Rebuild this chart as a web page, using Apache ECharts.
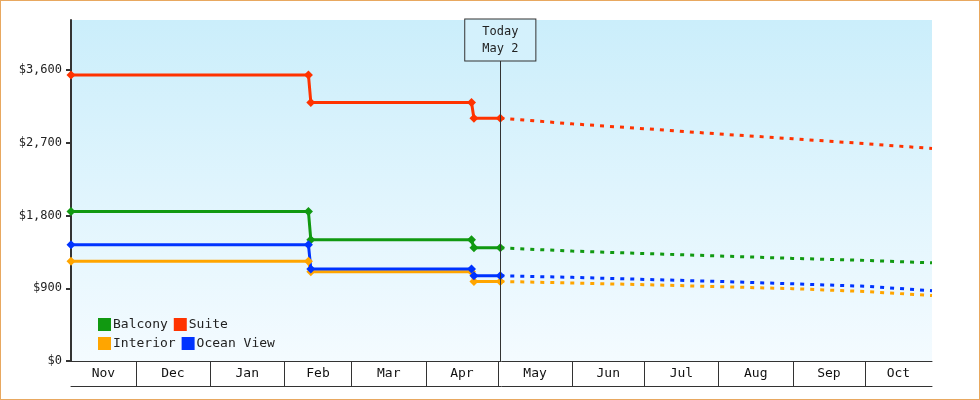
<!DOCTYPE html>
<html><head><meta charset="utf-8">
<script src="https://cdn.jsdelivr.net/npm/echarts@6/dist/echarts.min.js"></script>
<style>html,body{margin:0;padding:0;background:#fff}#c{width:978px;height:398px;border:1px solid #e8a860}</style>
</head><body><div id="c"></div>
<script>
const months = ['Nov','Dec','Jan','Feb','Mar','Apr','May','Jun','Jul','Aug','Sep','Oct'];
const monthStarts = ['2024-11-01','2024-12-01','2025-01-01','2025-02-01','2025-03-01','2025-04-01','2025-05-01','2025-06-01','2025-07-01','2025-08-01','2025-09-01','2025-10-01','2025-11-01'];
const histDates = ['2024-11-04','2025-02-11','2025-02-12','2025-04-20','2025-04-21','2025-05-02'];
const projDates = ['2025-05-02','2025-06-01','2025-07-01','2025-08-01','2025-09-01','2025-10-01','2025-10-29'];
const seriesNames = ['Balcony','Suite','Interior','Ocean View'];
const colors = ['#119911','#ff3300','#ffa500','#0033ff'];
const histValues = {
  'Balcony':    [1850,1850,1500,1500,1400,1400],
  'Suite':      [3540,3540,3200,3200,3005,3005],
  'Interior':   [1235,1235,1105,1105,985,985],
  'Ocean View': [1440,1440,1140,1140,1055,1055]
};
const projValues = {
  'Balcony':    [1400,1360,1330,1300,1270,1245,1215],
  'Suite':      [3005,2935,2875,2810,2750,2690,2630],
  'Interior':   [985,965,945,920,895,860,810],
  'Ocean View': [1055,1035,1010,985,955,925,870]
};
const today = '2025-05-02';
const xMin = '2024-11-04', xMax = '2025-10-29';
const font = 'DejaVu Sans Mono';
const t = d => new Date(d + 'T00:00:00Z').getTime();

const series = [];
seriesNames.forEach((n,i) => {
  series.push({name:n,type:'line',data:histDates.map((d,j)=>[t(d),histValues[n][j]]),
    symbol:'diamond',symbolSize:9,showSymbol:true,lineStyle:{width:3,color:colors[i]},itemStyle:{color:colors[i]},z:3});
  series.push({name:n,type:'line',data:projDates.map((d,j)=>[t(d),projValues[n][j]]),
    symbol:'none',lineStyle:{width:3,type:[4,6],color:colors[i]},itemStyle:{color:colors[i]},z:2});
});
const mids = months.map((m,i)=>{
  const a = Math.max(t(monthStarts[i]), t(xMin)), b = Math.min(t(monthStarts[i+1]), t(xMax));
  return [(a+b)/2, 0, m];
});
series.push({type:'custom',clip:false,silent:true,data:mids,z:5,
  renderItem:(p,api)=>{const c=api.coord([api.value(0),0]);
    return {type:'text',x:c[0],y:c[1]+13,style:{text:months[p.dataIndex],font:'13px '+font,fill:'#111',align:'center',verticalAlign:'middle'}};}});
series.push({type:'line',data:[],markLine:{silent:true,symbol:'none',
  lineStyle:{color:'#333',width:1,type:'solid'},
  label:{position:'end',formatter:'Today\nMay 2',fontFamily:font,fontSize:12,color:'#222',
    backgroundColor:'#d4f1fc',borderColor:'#333',borderWidth:1,padding:[4,17,3,17],lineHeight:17,distance:0},
  data:[[{coord:[t(today),0]},{coord:[t(today),3720]}]]}});

const chart = echarts.init(document.getElementById('c'));
chart.setOption({
  animation:false,
  grid:{left:70,right:47,top:19,bottom:38},
  backgroundColor:'#fff',
  legend:{left:92,top:312,width:200,itemWidth:13,itemHeight:13,itemGap:6,icon:'rect',
    data:seriesNames,textStyle:{fontFamily:font,fontSize:13,color:'#222',width:72,padding:[0,0,0,-3]},selectedMode:false},
  xAxis:[{type:'time',min:t(xMin),max:t(xMax),
    axisLine:{lineStyle:{color:'#333',width:1}},
    axisTick:{show:true,customValues:monthStarts.slice(1,12).map(t),length:25,lineStyle:{color:'#333'}},
    axisLabel:{show:false},splitLine:{show:false}},
    {type:'time',min:t(xMin),max:t(xMax),position:'bottom',offset:25,
    axisLine:{show:true,lineStyle:{color:'#333'}},axisTick:{show:false},axisLabel:{show:false},splitLine:{show:false}}],
  yAxis:{type:'value',min:0,max:4220,interval:900,
    axisLine:{show:true,lineStyle:{color:'#333',width:2}},
    axisTick:{show:true,length:5,lineStyle:{color:'#333',width:2}},
    axisLabel:{fontFamily:font,fontSize:12,color:'#222',margin:9,
      formatter:v=>'$'+v.toLocaleString('en-US'),showMaxLabel:false},
    splitLine:{show:false}},
  series
});
const g = chart.getModel().getComponent('grid').coordinateSystem.getRect();
chart.setOption({graphic:[{type:'rect',z:-10,silent:true,shape:{x:g.x,y:g.y,width:g.width,height:g.height},
  style:{fill:new echarts.graphic.LinearGradient(0,0,0,1,[{offset:0,color:'#cbeefb'},{offset:1,color:'#f4fbff'}])}}]});
</script></body></html>
